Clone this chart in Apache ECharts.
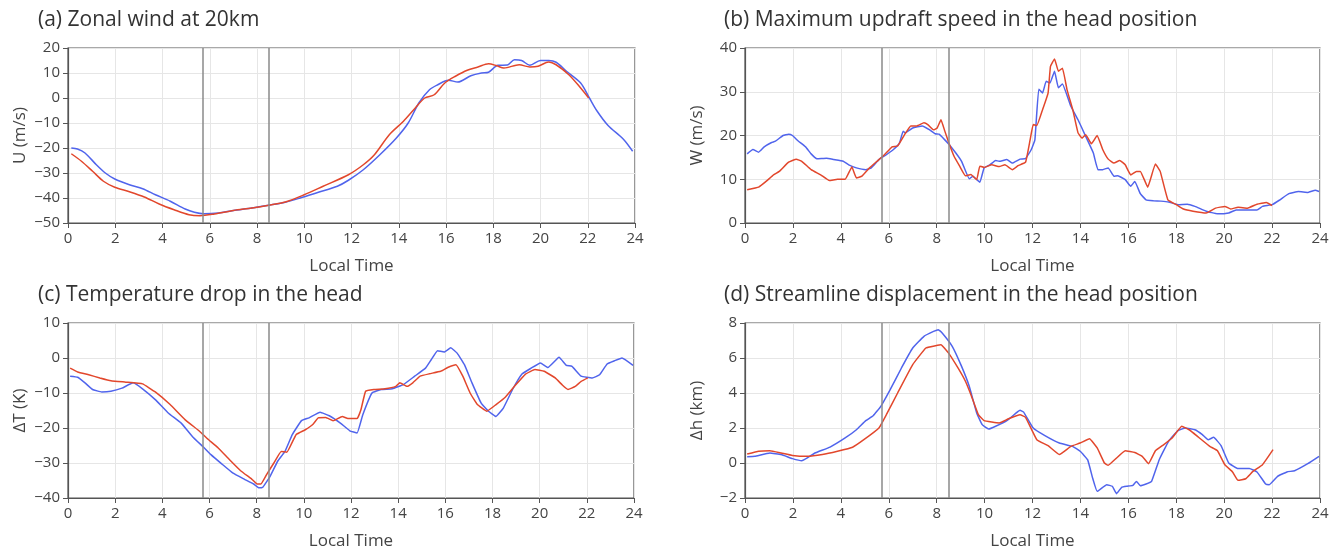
<!DOCTYPE html>
<html>
<head>
<meta charset="utf-8">
<script src="https://cdn.jsdelivr.net/npm/echarts@6/dist/echarts.min.js"></script>
<style>
  html, body { margin: 0; padding: 0; background: #fff; }
  #chart { width: 1338px; height: 552px; }
</style>
</head>
<body>
<div id="chart"></div>
<script>
// Local-time axis shared by all four panels
const timeTicks = [0, 2, 4, 6, 8, 10, 12, 14, 16, 18, 20, 22, 24];
// Vertical reference times (h)
const markTimes = [5.72, 8.5];

const panelTitles = [
  '(a) Zonal wind at 20km',
  '(b) Maximum updraft speed in the head position',
  '(c) Temperature drop in the head',
  '(d) Streamline displacement in the head position'
];
const yNames = ['U (m/s)', 'W (m/s)', '\u0394T (K)', '\u0394h (km)'];
const xName = 'Local Time';

// (a) zonal wind, blue run
const windBlueTime = [0.14,0.4,0.72,1.2,1.58,1.98,2.6,3.16,3.7,4.33,4.96,5.35,5.75,6.37,7.0,7.79,8.5,9.2,9.83,10.6,11.4,11.87,12.5,13.2,13.9,14.4,14.85,15.3,15.65,16.1,16.5,17.05,17.5,17.8,18.2,18.6,18.9,19.2,19.55,20.0,20.35,20.66,21.1,21.7,22.07,22.4,22.86,23.5,23.9];
const windBlue = [-20,-20.4,-22,-26.7,-30,-32.4,-34.7,-36.3,-38.7,-41.3,-44.4,-45.7,-46.3,-46,-45,-44,-42.9,-41.7,-40,-37.7,-35.3,-32.9,-28.7,-22.7,-16,-10,-2,3.3,5.3,7.1,6.4,8.9,10,10.3,13.1,13.2,15.3,15,13.1,15,15,14.3,10.7,6,0,-5.3,-11,-16.4,-21.3];
// (a) zonal wind, red run
const windRedTime = [0.14,0.57,1.04,1.5,1.98,2.6,3.23,3.86,4.49,5.12,5.59,6.2,7.0,7.79,8.5,9.2,10.0,10.8,11.87,12.5,12.97,13.6,14.2,14.7,15.1,15.5,15.95,16.4,16.9,17.35,17.8,18.15,18.45,19.1,19.55,19.9,20.35,20.66,21.2,21.7,22.04];
const windRed = [-22.3,-25.3,-29.3,-33.3,-35.7,-37.5,-39.6,-42.4,-44.7,-46.7,-47.1,-46.4,-45,-44,-42.9,-41.6,-38.7,-35.3,-30.7,-26.7,-22.7,-14.7,-9.3,-4,0,1.3,6,8.7,11.1,12.4,13.7,12.9,12,13.3,12.4,12.7,14.4,13.3,9.3,4,0];

// (b) maximum updraft speed, blue run
const updraftBlueTime = [0.09,0.33,0.57,0.8,1.11,1.27,1.59,1.82,1.98,2.21,2.53,2.76,3.0,3.4,3.7,4.1,4.33,4.65,5.04,5.27,5.59,5.9,6.22,6.45,6.6,6.69,7.0,7.4,7.71,7.94,8.1,8.34,8.51,8.8,9.04,9.36,9.51,9.8,9.98,10.22,10.46,10.61,10.93,11.16,11.48,11.71,11.95,12.1,12.26,12.42,12.57,12.73,12.92,13.08,13.25,13.6,13.9,14.22,14.54,14.73,14.93,15.16,15.4,15.56,15.87,16.1,16.27,16.5,16.74,17.05,17.36,17.68,18.07,18.46,18.78,19.25,19.72,20.19,20.5,20.97,21.37,21.6,22.0,22.3,22.7,23.1,23.5,23.8,23.96];
const updraftBlue = [15.8,16.8,16.2,17.4,18.4,18.7,20,20.3,20,18.8,17.4,15.8,14.7,14.8,14.5,14.1,13.3,12.6,12.2,12.6,14.5,15.6,16.9,18.3,21,20.6,21.7,22.2,21.3,20.4,20.3,19,18,16,14.1,10.1,10.7,9.3,12.6,13.3,14.3,14.1,14.5,13.7,14.6,14.7,16.8,19,30.6,29.7,32.4,32,34.7,30.9,31.8,26.7,23.6,19.8,16,12.2,12.2,12.6,10.7,10.8,9.9,8.4,9.5,6.7,5.3,5.1,5,4.8,4.2,4.3,3.8,2.7,2.1,2.3,3,3,3,3.8,4.2,5.2,6.7,7.2,7,7.5,7.2];
// (b) maximum updraft speed, red run
const updraftRedTime = [0.09,0.57,0.88,1.19,1.43,1.82,2.14,2.37,2.76,3.16,3.52,3.86,4.18,4.46,4.65,4.88,5.2,5.51,5.82,6.14,6.37,6.66,6.92,7.16,7.47,7.63,7.87,8.02,8.18,8.34,8.51,8.73,8.96,9.2,9.43,9.67,9.8,9.98,10.3,10.61,10.85,11.16,11.4,11.71,11.9,12.03,12.18,12.42,12.65,12.75,12.92,13.08,13.25,13.44,13.68,13.9,14.07,14.22,14.46,14.7,14.93,15.16,15.4,15.64,15.87,16.1,16.34,16.5,16.81,17.13,17.33,17.65,18.0,18.3,18.7,19.25,19.64,20.03,20.27,20.58,20.97,21.37,21.76,22.0];
const updraftRed = [7.6,8.2,9.5,11,11.8,13.9,14.6,14.1,12.2,11,9.7,10,10,12.8,10.3,10.7,12.6,14.1,15.6,17.4,17.6,20.2,22.2,22.2,22.9,22.5,21.3,21.7,23.6,21,18.3,15.2,13,10.8,11.1,9.9,13,12.7,13.3,12.9,13.3,12.2,13.1,13.9,19,22.5,22.3,25.9,29.7,35.8,37.5,34.7,35.4,30.5,25.9,20.6,19.4,20.2,18.1,20,16.8,14.6,13.7,14.3,13.3,11,11.8,11.8,8.2,13.5,11.8,5.3,4.2,3.2,2.7,2.3,3.4,3.8,3.2,3.6,3.4,4.3,4.7,4];

// (c) temperature drop, blue run
const tempBlueTime = [0.09,0.41,0.72,1.04,1.43,1.82,2.29,2.76,3.16,3.7,4.25,4.8,5.27,5.75,6.06,6.53,7.0,7.47,7.87,8.1,8.26,8.57,8.89,9.2,9.51,9.9,10.22,10.69,11.08,11.55,11.95,12.26,12.5,12.89,13.28,13.75,14.22,14.7,15.16,15.4,15.67,15.95,16.23,16.5,16.81,17.13,17.52,17.83,18.15,18.46,18.85,19.25,19.64,20.03,20.35,20.82,21.13,21.37,21.76,22.23,22.54,22.86,23.17,23.49,23.96];
const tempBlue = [-5.2,-5.5,-7.1,-9,-9.7,-9.5,-8.6,-7.1,-8.8,-11.9,-15.7,-18.6,-22.4,-25.5,-27.6,-30.3,-32.9,-34.6,-36,-37.1,-36.9,-33.8,-29.5,-26.7,-21.9,-17.9,-17.1,-15.5,-16.5,-18.6,-20.8,-21.4,-16.2,-10,-9,-8.8,-7.6,-5.2,-2.9,-0.5,2.1,1.7,2.9,1.4,-1.9,-7.1,-12.9,-15.2,-16.7,-14.3,-9,-4.6,-2.9,-1.4,-2.7,0.2,-2.1,-2.4,-5.2,-5.7,-4.8,-1.7,-0.8,0,-2.1];
// (c) temperature drop, red run
const tempRedTime = [0.09,0.41,0.88,1.35,1.82,2.45,3.16,3.7,4.33,4.96,5.59,5.9,6.37,6.84,7.32,7.79,8.02,8.18,8.42,8.73,9.04,9.28,9.67,10.06,10.38,10.61,10.93,11.24,11.63,11.87,12.26,12.42,12.62,12.97,13.44,13.9,14.07,14.38,14.62,14.93,15.33,15.8,16.1,16.45,16.74,17.05,17.36,17.76,18.15,18.54,18.93,19.4,19.8,20.19,20.66,20.97,21.2,21.51,21.76,22.04];
const tempRed = [-2.9,-4,-4.8,-5.7,-6.5,-6.9,-7.4,-9.7,-13.3,-17.6,-21,-23,-25.7,-29,-32.2,-34.6,-36,-36,-33.3,-30,-26.7,-26.9,-21.9,-20.5,-19,-17.1,-17,-17.9,-16.7,-17.3,-17.3,-14.8,-9.5,-9,-8.8,-8.1,-7.1,-8.1,-7.1,-5.2,-4.5,-3.8,-2.7,-1.9,-5.2,-10,-13.3,-15.2,-13.3,-11.2,-8.1,-4.6,-3.3,-3.8,-5.7,-7.8,-9,-8.1,-6.7,-5.7];

// (d) streamline displacement, blue run
const dispBlueTime = [0.09,0.41,1.04,1.51,1.98,2.37,2.6,2.92,3.55,4.18,4.65,5.04,5.35,5.67,6.06,6.53,7.0,7.47,7.87,8.07,8.23,8.65,9.04,9.36,9.67,9.9,10.17,10.46,10.93,11.32,11.48,11.63,12.03,12.5,13.12,13.67,13.99,14.3,14.51,14.7,15.1,15.33,15.51,15.72,15.95,16.19,16.34,16.5,16.74,16.97,17.29,17.68,18.07,18.38,18.78,19.09,19.33,19.56,19.87,20.19,20.58,21.05,21.37,21.73,21.88,22.23,22.62,22.94,23.49,23.96];
const dispBlue = [0.36,0.38,0.57,0.48,0.25,0.13,0.29,0.57,0.91,1.43,1.9,2.42,2.7,3.24,4.19,5.43,6.57,7.24,7.52,7.62,7.43,6.67,5.52,4.38,2.86,2.19,1.94,2.1,2.42,2.86,3.01,2.91,2,1.58,1.14,0.95,0.67,0.19,-0.86,-1.62,-1.24,-1.33,-1.75,-1.39,-1.33,-1.28,-1.05,-1.3,-1.2,-1.05,0.19,1.24,1.85,2,1.9,1.62,1.33,1.47,0.99,0,-0.32,-0.32,-0.51,-1.2,-1.24,-0.76,-0.51,-0.44,-0.04,0.38];
// (d) streamline displacement, red run
const dispRedTime = [0.09,0.57,1.04,1.51,1.98,2.6,3.23,3.86,4.49,4.96,5.59,5.9,6.37,7.0,7.55,7.95,8.18,8.49,8.89,9.2,9.43,9.74,9.98,10.3,10.61,11.0,11.48,11.71,12.18,12.65,13.12,13.6,13.99,14.38,14.7,15.0,15.16,15.48,15.87,16.27,16.58,16.84,17.13,17.44,17.83,18.23,18.54,18.93,19.4,19.72,20.03,20.35,20.58,20.9,21.2,21.6,22.04];
const dispRed = [0.51,0.67,0.7,0.57,0.43,0.38,0.48,0.67,0.9,1.33,2,2.76,4,5.62,6.57,6.7,6.76,6.29,5.43,4.67,3.9,2.76,2.42,2.34,2.29,2.53,2.76,2.61,1.33,0.99,0.48,0.95,1.14,1.39,0.86,0,-0.13,0.25,0.7,0.6,0.38,-0.04,0.7,1.01,1.43,2.1,1.9,1.47,0.95,0.7,-0.1,-0.51,-0.99,-0.9,-0.48,-0.1,0.76];

// y-axis ranges per panel: [min, max, interval]
const yRanges = [[-50, 20, 10], [0, 40, 10], [-40, 10, 10], [-2, 8, 2]];

const BLUE = '#5064ec';
const RED = '#e2472c';
const FONT = '"Open Sans", "Noto Sans", sans-serif';
const TEXT = '#444';

const grids = [
  { left: 68,  top: 48,  width: 567, height: 175 },
  { left: 745, top: 48,  width: 575, height: 175 },
  { left: 68,  top: 323, width: 566, height: 175 },
  { left: 745, top: 323, width: 575, height: 175 }
];
const titlePos = [
  { left: 38, top: 10 }, { left: 724, top: 10 },
  { left: 38, top: 285 }, { left: 724, top: 285 }
];

const zip = (t, v) => t.map((x, i) => [x, v[i]]);
const minusFmt = v => String(v).replace('-', '\u2212');

const seriesPairs = [
  [zip(windBlueTime, windBlue), zip(windRedTime, windRed)],
  [zip(updraftBlueTime, updraftBlue), zip(updraftRedTime, updraftRed)],
  [zip(tempBlueTime, tempBlue), zip(tempRedTime, tempRed)],
  [zip(dispBlueTime, dispBlue), zip(dispRedTime, dispRed)]
];

const option = {
  backgroundColor: '#fff',
  animation: false,
  textStyle: { fontFamily: FONT },
  title: panelTitles.map((t, i) => ({
    text: t,
    left: titlePos[i].left,
    top: titlePos[i].top,
    padding: 0,
    textStyle: { fontFamily: FONT, fontSize: 21, fontWeight: 'normal', color: '#333' }
  })),
  grid: grids.map(g => Object.assign({ show: true, borderColor: '#555', borderWidth: 1.2, backgroundColor: '#fff' }, g)),
  xAxis: grids.map((g, i) => ({
    type: 'value',
    gridIndex: i,
    min: timeTicks[0],
    max: timeTicks[timeTicks.length - 1],
    interval: 2,
    name: xName,
    nameLocation: 'middle',
    nameGap: 35,
    nameTextStyle: { fontFamily: FONT, fontSize: 17, color: TEXT },
    axisLine: { show: true, onZero: false, lineStyle: { color: '#555', width: 1.2 } },
    axisTick: { show: true, length: 5, lineStyle: { color: '#555' } },
    axisLabel: { fontFamily: FONT, fontSize: 15, color: TEXT, margin: 8 },
    splitLine: { show: true, lineStyle: { color: '#e6e6e6', width: 1 } }
  })),
  yAxis: grids.map((g, i) => ({
    type: 'value',
    gridIndex: i,
    min: yRanges[i][0],
    max: yRanges[i][1],
    interval: yRanges[i][2],
    name: yNames[i],
    nameLocation: 'middle',
    nameRotate: 90,
    nameGap: 39,
    nameTextStyle: { fontFamily: FONT, fontSize: 17, color: TEXT },
    axisLine: { show: true, onZero: false, lineStyle: { color: '#555', width: 1.2 } },
    axisTick: { show: true, length: 5, lineStyle: { color: '#555' } },
    axisLabel: { fontFamily: FONT, fontSize: 15, color: TEXT, margin: 8, formatter: minusFmt },
    splitLine: { show: true, lineStyle: { color: '#e6e6e6', width: 1 } }
  })),
  series: []
};

seriesPairs.forEach((pair, i) => {
  option.series.push({
    type: 'line', name: 'run 1', xAxisIndex: i, yAxisIndex: i,
    data: pair[0], showSymbol: false, smooth: i === 0 ? 0.3 : 0.1,
    lineStyle: { color: BLUE, width: 1.5 }, z: 3,
    markLine: {
      silent: true, symbol: 'none', label: { show: false },
      lineStyle: { color: '#8a8a8a', width: 1.5, type: 'solid' },
      data: markTimes.map(t => ({ xAxis: t }))
    }
  });
  option.series.push({
    type: 'line', name: 'run 2', xAxisIndex: i, yAxisIndex: i,
    data: pair[1], showSymbol: false, smooth: i === 0 ? 0.3 : 0.1,
    lineStyle: { color: RED, width: 1.5 }, z: 4
  });
});

const chart = echarts.init(document.getElementById('chart'), null, { renderer: 'canvas' });
chart.setOption(option);
</script>
</body>
</html>
